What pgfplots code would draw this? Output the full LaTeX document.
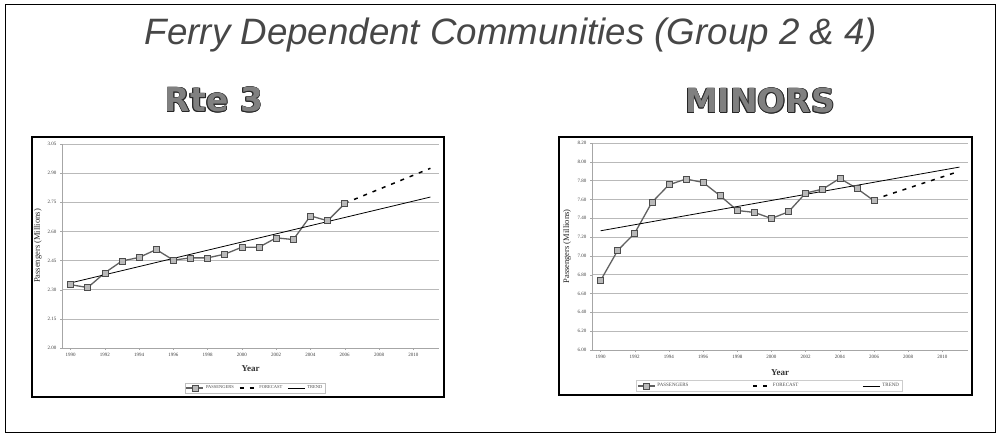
\documentclass[border=0pt]{standalone}
\usepackage{pgfplots}
\pgfplotsset{compat=1.18}
\usepackage{fontspec}
\setmainfont{Liberation Serif}
\newfontfamily\arialfont{Liberation Sans}
\newfontfamily\heavyfont{DejaVu Sans}

\pgfplotsset{ferry/.style={
  scale only axis,
  xmin=1989.5, xmax=2011.5,
  xtick={1990,1992,...,2010},
  x tick label style={/pgf/number format/1000 sep={}},
  y tick label style={/pgf/number format/.cd, fixed, fixed zerofill, precision=2},
  /pgf/number format/assume math mode=true,
  axis x line*=bottom, axis y line*=left,
  axis line style={gray!70, line width=0.4pt},
  ymajorgrids, major grid style={gray!55, line width=0.5pt},
  tick style={gray!70, line width=0.4pt},
  tick align=outside, major tick length=2pt,
  ticklabel style={font=\fontsize{5}{6}\selectfont, text=black!75},
  xlabel={Year}, ylabel={Passengers (Millions)},
  xlabel style={font=\fontsize{9}{10}\selectfont\bfseries, text=black!80},
  ylabel style={font=\fontsize{8.5}{10}\selectfont, text=black!85},
  legend columns=3,
  legend cell align=left,
  passengers/.style={color=black!62, line width=1.3pt, mark=square*, mark size=3pt,
     mark options={fill=gray!55, draw=black!70, solid, line width=0.6pt}},
  forecast/.style={black, line width=1.5pt, dash pattern=on 4pt off 6pt},
  trend/.style={black, line width=0.8pt},
}}

\newcommand{\heavylabel}[3]{%
  \foreach \dx/\dy in {-0.9/0,0.9/0,0/-0.9,0/0.9,-0.65/-0.65,0.65/0.65,-0.65/0.65,0.65/-0.65}{%
    \node[anchor=base, font=\heavyfont\bfseries\fontsize{33}{36}\selectfont, text=black!85]
      at ([shift={(\dx pt,\dy pt)}]#1pt,#2pt) {#3};}
  \node[anchor=base, font=\heavyfont\bfseries\fontsize{33}{36}\selectfont, text=black!50]
      at (#1pt,#2pt) {#3};}

\begin{document}
\begin{tikzpicture}
\useasboundingbox (0,0) rectangle (1001pt,437pt);
\fill[white] (0,0) rectangle (1001pt,437pt);
% outer frame
\draw[black, line width=0.9pt] (5pt,5pt) rectangle (995pt,433pt);

% title
\node[anchor=base, font=\arialfont\itshape\fontsize{36.7}{40}\selectfont, text=black!72]
  at (511pt,392pt) {Ferry Dependent Communities (Group 2 \& 4)};

\heavylabel{214}{325}{Rte 3}
\heavylabel{760}{324}{MINORS}

% chart boxes
\draw[black, line width=2.2pt] (32pt,40pt) rectangle (444pt,300pt);
\draw[black, line width=2.2pt] (559pt,42pt) rectangle (972pt,300pt);

% ---------- Rte 3 ----------
\begin{axis}[ferry,
  at={(62pt,89pt)}, anchor=south west,
  width=377pt, height=204pt,
  ymin=2.00, ymax=3.05,
  ytick={2.00,2.15,2.30,2.45,2.60,2.75,2.90,3.05},
  xlabel style={at={(axis description cs:0.5,-0.103)}, anchor=center},
  ylabel style={at={(axis description cs:-0.064,0.5)}, anchor=center},
  legend style={at={(axis description cs:0.512,-0.196)}, anchor=center,
     draw=gray!50, line width=0.3pt, font=\fontsize{4.5}{5}\selectfont,
     inner sep=0.6pt, text=black!70,
     /tikz/every even column/.append style={column sep=3pt}},
]
\addplot[passengers] coordinates {
 (1990,2.326) (1991,2.311) (1992,2.387) (1993,2.448) (1994,2.466) (1995,2.507)
 (1996,2.452) (1997,2.464) (1998,2.464) (1999,2.483) (2000,2.519) (2001,2.519)
 (2002,2.567) (2003,2.558) (2004,2.680) (2005,2.655) (2006,2.743)};
\addlegendentry{PASSENGERS}
\addplot[forecast] coordinates {(2006,2.745) (2011,2.925)};
\addlegendentry{FORECAST}
\addplot[trend] coordinates {(1990,2.335) (2011,2.777)};
\addlegendentry{TREND}
\end{axis}

% ---------- MINORS ----------
\begin{axis}[ferry,
  at={(592pt,87pt)}, anchor=south west,
  width=376pt, height=207pt,
  ymin=6.00, ymax=8.20,
  ytick={6.00,6.20,6.40,6.60,6.80,7.00,7.20,7.40,7.60,7.80,8.00,8.20},
  xlabel style={at={(axis description cs:0.5,-0.111)}, anchor=center},
  ylabel style={at={(axis description cs:-0.066,0.5)}, anchor=center},
  legend style={at={(axis description cs:0.471,-0.174)}, anchor=center,
     draw=gray!40, line width=0.3pt, font=\fontsize{5}{6}\selectfont,
     inner sep=1pt, text=black!70,
     /tikz/every even column/.append style={column sep=62pt}},
]
\addplot[passengers] coordinates {
 (1990,6.738) (1991,7.057) (1992,7.242) (1993,7.568) (1994,7.756) (1995,7.817)
 (1996,7.781) (1997,7.639) (1998,7.483) (1999,7.462) (2000,7.398) (2001,7.469)
 (2002,7.668) (2003,7.710) (2004,7.824) (2005,7.717) (2006,7.586)};
\addlegendentry{PASSENGERS}
\addplot[forecast] coordinates {(2006,7.600) (2011,7.900)};
\addlegendentry{FORECAST}
\addplot[trend] coordinates {(1990,7.267) (2011,7.944)};
\addlegendentry{TREND}
\end{axis}
\end{tikzpicture}
\end{document}
